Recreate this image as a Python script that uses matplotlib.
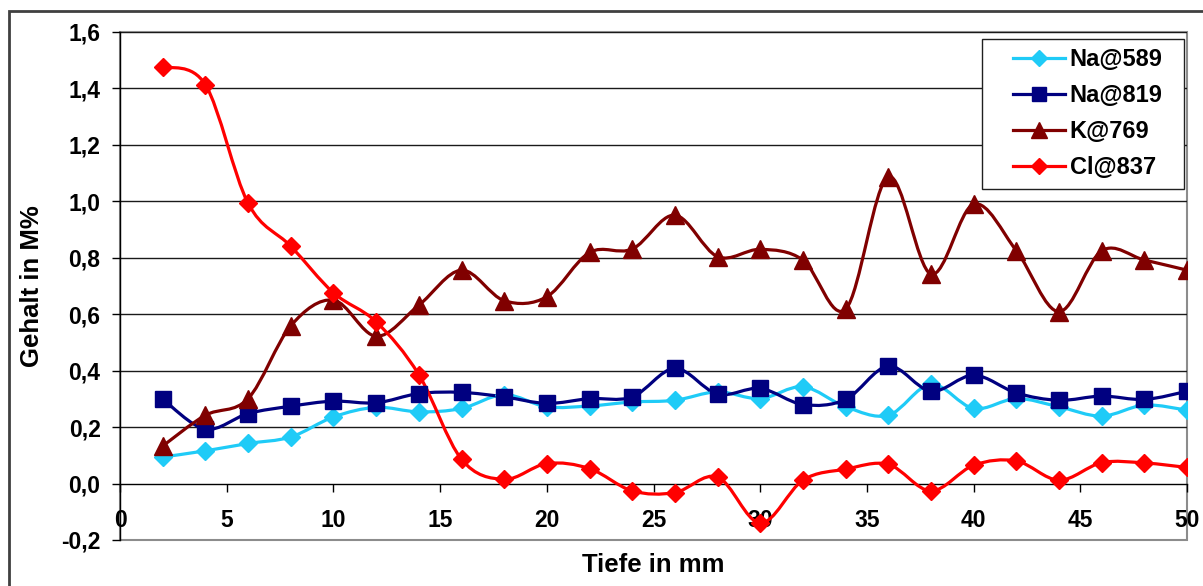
import numpy as np
import matplotlib
matplotlib.use("Agg")
import matplotlib.pyplot as plt
from matplotlib.path import Path
from matplotlib.patches import PathPatch, Rectangle
from matplotlib.lines import Line2D

plt.rcParams["font.family"] = ["Liberation Sans", "DejaVu Sans"]
plt.rcParams["font.weight"] = "bold"

# ------------------------------------------------------------------ #
#  Data                                     #
# ------------------------------------------------------------------ #
depth = [2, 4, 6, 8, 10, 12, 14, 16, 18, 20, 22, 24, 26,
         28, 30, 32, 34, 36, 38, 40, 42, 44, 46, 48, 50]

na_589 = [0.094, 0.116, 0.142, 0.165, 0.236, 0.270, 0.254, 0.266, 0.315, 0.272,
          0.275, 0.289, 0.295, 0.325, 0.301, 0.343, 0.272, 0.242, 0.352, 0.266,
          0.301, 0.272, 0.239, 0.278, 0.260]
na_819 = [0.299, 0.193, 0.248, 0.274, 0.292, 0.286, 0.319, 0.323, 0.307, 0.284,
          0.301, 0.307, 0.408, 0.317, 0.337, 0.280, 0.298, 0.416, 0.327, 0.384,
          0.321, 0.295, 0.310, 0.298, 0.327]
k_769 = [0.133, 0.242, 0.301, 0.559, 0.650, 0.522, 0.632, 0.756, 0.648, 0.662,
         0.819, 0.831, 0.951, 0.804, 0.830, 0.792, 0.618, 1.087, 0.742, 0.990,
         0.825, 0.609, 0.825, 0.792, 0.756]
cl_837 = [1.477, 1.413, 0.993, 0.841, 0.676, 0.573, 0.386, 0.086, 0.015, 0.071,
          0.053, -0.026, -0.032, 0.023, -0.140, 0.012, 0.051, 0.068, -0.026, 0.065,
          0.080, 0.012, 0.074, 0.073, 0.057]

series_labels = ["Na@589", "Na@819", "K@769", "Cl@837"]
series_data = [na_589, na_819, k_769, cl_837]
series_colors = ["#1FCBF7", "#000080", "#800000", "#FF0000"]
series_markers = ["D", "s", "^", "D"]
series_ms = [9.5, 11, 12.5, 9.5]

x_ticks = [0, 5, 10, 15, 20, 25, 30, 35, 40, 45, 50]
y_ticks = [-0.2, 0.0, 0.2, 0.4, 0.6, 0.8, 1.0, 1.2, 1.4, 1.6]


def smooth_path(x, y):
    """Excel-like smoothed line as cubic Bezier segments."""
    pts = np.column_stack([x, y]).astype(float)
    n = len(pts)
    verts = [pts[0]]
    codes = [Path.MOVETO]
    for i in range(n - 1):
        p0 = pts[max(i - 1, 0)]
        p1 = pts[i]
        p2 = pts[i + 1]
        p3 = pts[min(i + 2, n - 1)]
        c1 = p1 + (p2 - p0) / 6.0
        c2 = p2 - (p3 - p1) / 6.0
        verts += [c1, c2, p2]
        codes += [Path.CURVE4] * 3
    return Path(verts, codes)


fig = plt.figure(figsize=(12.03, 5.86), dpi=100)
ax = fig.add_axes([0.0998, 0.0785, 0.887, 0.8669])

ax.set_xlim(0, 50)
ax.set_ylim(-0.2, 1.6)

# gridlines
for yv in y_ticks[2:]:
    ax.axhline(yv, color="#1a1a1a", lw=1.0, zorder=1)

handles = []
for lab, vals, col, mk, ms in zip(series_labels, series_data, series_colors,
                                  series_markers, series_ms):
    ax.add_patch(PathPatch(smooth_path(depth, vals), fill=False, ec=col,
                           lw=2.3, zorder=3))
    ax.plot(depth, vals, ls="none", marker=mk, ms=ms, color=col, mec=col,
            zorder=4)
    handles.append(Line2D([], [], color=col, lw=2.3, marker=mk, ms=ms * 0.9,
                          mec=col, label=lab))

# axes styling
for s in ["top", "right"]:
    ax.spines[s].set_visible(False)
ax.spines["bottom"].set_position(("data", 0))
ax.spines["bottom"].set_color("black")
ax.spines["bottom"].set_linewidth(1.0)
ax.spines["left"].set_color("black")
ax.spines["left"].set_linewidth(1.0)
ax.add_patch(Rectangle((0, 0), 1, 1, transform=ax.transAxes, fill=False,
                       ec="#8c8c8c", lw=1.5, zorder=0, clip_on=False))

ax.set_xticks(x_ticks)
ax.set_yticks(y_ticks)
ax.set_xticklabels([str(v) for v in x_ticks])
ax.set_yticklabels([f"{v:.1f}".replace(".", ",") for v in y_ticks])
ax.tick_params(axis="x", direction="out", length=6, width=1, pad=12,
               labelsize=16.5)
ax.tick_params(axis="y", direction="out", length=6, width=1, pad=8,
               labelsize=16.5)

ax.set_xlabel("Tiefe in mm", fontsize=18.5, fontweight="bold")
ax.set_ylabel("Gehalt in M%", fontsize=18.5, fontweight="bold")
ax.xaxis.set_label_coords(0.5, -0.025)
ax.yaxis.set_label_coords(-0.071, 0.5)

# legend: content without frame, frame drawn as its own box
leg = ax.legend(handles=handles, loc="upper left",
                bbox_to_anchor=(0.837, 0.968), fontsize=17,
                frameon=False, handlelength=2.2, handletextpad=0.2,
                labelspacing=0.55, borderpad=0, borderaxespad=0)
for t in leg.get_texts():
    t.set_fontweight("bold")
ax.add_patch(Rectangle((0.8079, 0.691), 0.1893, 0.2953, transform=ax.transAxes,
                       facecolor="white", ec="#202020", lw=1.0, zorder=5))
leg.set_zorder(6)

# outer chart border
fig.patches.append(Rectangle((0.0075, -0.1), 1.1, 1.081,
                             transform=fig.transFigure, fill=False,
                             ec="#404040", lw=2))

fig.savefig("out.png", dpi=100, facecolor="white")
